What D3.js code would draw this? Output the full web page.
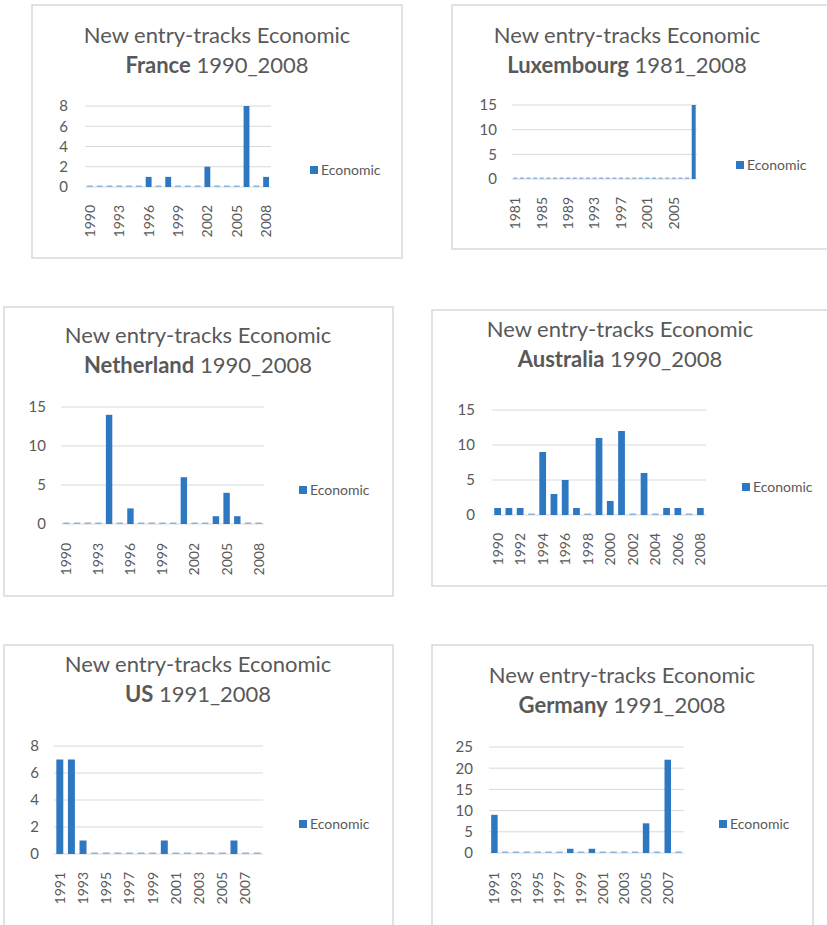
<!DOCTYPE html>
<html>
<head>
<meta charset="utf-8">
<script src="https://cdn.jsdelivr.net/npm/d3@7"></script>
<style>
  body { margin: 0; background: #fff; }
  text { font-family: Lato, "Open Sans", sans-serif; fill: #595959; }
</style>
</head>
<body>
<script>
// data, one set of arrays per chart
let franceYears = d3.range(1990, 2009);
let franceValues = [0,0,0,0,0,0,1,0,1,0,0,0,2,0,0,0,8,0,1];
let franceTicks = [1990,1993,1996,1999,2002,2005,2008];
let franceY = [0,2,4,6,8];

let luxYears = d3.range(1981, 2009);
let luxValues = [0,0,0,0,0,0,0,0,0,0,0,0,0,0,0,0,0,0,0,0,0,0,0,0,0,0,0,15];
let luxTicks = [1981,1985,1989,1993,1997,2001,2005];
let luxY = [0,5,10,15];

let nethYears = d3.range(1990, 2009);
let nethValues = [0,0,0,0,14,0,2,0,0,0,0,6,0,0,1,4,1,0,0];
let nethTicks = [1990,1993,1996,1999,2002,2005,2008];
let nethY = [0,5,10,15];

let ausYears = d3.range(1990, 2009);
let ausValues = [1,1,1,0,9,3,5,1,0,11,2,12,0,6,0,1,1,0,1];
let ausTicks = [1990,1992,1994,1996,1998,2000,2002,2004,2006,2008];
let ausY = [0,5,10,15];

let usYears = d3.range(1991, 2009);
let usValues = [7,7,1,0,0,0,0,0,0,1,0,0,0,0,0,1,0,0];
let usTicks = [1991,1993,1995,1997,1999,2001,2003,2005,2007];
let usY = [0,2,4,6,8];

let gerYears = d3.range(1991, 2009);
let gerValues = [9,0,0,0,0,0,0,1,0,1,0,0,0,0,7,0,22,0];
let gerTicks = [1991,1993,1995,1997,1999,2001,2003,2005,2007];
let gerY = [0,5,10,15,20,25];

let seriesName = "Economic";
let blue = "#2e78c2";

let svg = d3.select("body").append("svg").attr("width", 827).attr("height", 925);

function drawChart(c) {
  let g = svg.append("g");

  g.append("rect")
    .attr("x", c.frame[0]).attr("y", c.frame[1])
    .attr("width", c.frame[2] - c.frame[0]).attr("height", c.frame[3] - c.frame[1])
    .attr("fill", "none").attr("stroke", "#d9d9d9").attr("stroke-width", 1.5);

  g.append("text").attr("x", c.titleX).attr("y", c.titleY)
    .attr("text-anchor", "middle").style("font-size", "22px").attr("fill", "#666")
    .text("New entry-tracks Economic");
  let t2 = g.append("text").attr("x", c.titleX).attr("y", c.titleY + 30)
    .attr("text-anchor", "middle").style("font-size", "22px").attr("fill", "#666");
  t2.append("tspan").style("font-weight", "bold").text(c.country);
  t2.append("tspan").text(" " + c.range);

  let x = d3.scaleBand().domain(c.years).range([c.left, c.right]).paddingInner(0.4).paddingOuter(0.2);
  let y = d3.scaleLinear().domain([0, d3.max(c.yTicks)]).range([c.bottom, c.top]);

  // gridlines
  g.append("g").selectAll("line").data(c.yTicks).join("line")
    .attr("x1", c.left).attr("x2", c.right)
    .attr("y1", d => y(d)).attr("y2", d => y(d))
    .attr("stroke", "#d9d9d9").attr("stroke-width", 1);

  let yAxis = d3.axisLeft(y).tickValues(c.yTicks).tickSize(0).tickPadding(0);
  let ya = g.append("g").attr("transform", "translate(" + c.yLab + ",0)").call(yAxis);
  ya.select(".domain").remove();
  ya.selectAll("text").style("font-size", "15px").attr("fill", "#666").style("font-family", "Lato, sans-serif");

  let xAxis = d3.axisBottom(x).tickValues(c.xTicks).tickSize(0).tickPadding(0);
  let xa = g.append("g").attr("transform", "translate(0," + (c.bottom + c.xGap) + ")").call(xAxis);
  xa.select(".domain").remove();
  xa.selectAll("text")
    .attr("transform", "rotate(-90)")
    .attr("text-anchor", "end")
    .attr("x", 0).attr("y", 0).attr("dy", "0.35em")
    .style("font-size", "14px").attr("fill", "#666").style("font-family", "Lato, sans-serif");

  // bars; zero values show as a thin dash on the axis
  g.append("g").selectAll("rect").data(c.years.map((yr, i) => ({yr: yr, v: c.values[i]}))).join("rect")
    .attr("x", d => x(d.yr))
    .attr("width", x.bandwidth())
    .attr("y", d => d.v > 0 ? y(d.v) : c.bottom - 1.5)
    .attr("height", d => d.v > 0 ? c.bottom - y(d.v) : 1.5)
    .attr("fill", d => d.v > 0 ? blue : "#8db4de");

  // legend
  g.append("rect").attr("x", c.legend[0]).attr("y", c.legend[1]).attr("width", 8).attr("height", 8).attr("fill", blue);
  g.append("text").attr("x", c.legend[0] + 11).attr("y", c.legend[1] + 8.5)
    .style("font-size", "14px").attr("fill", "#666").text(seriesName);
}

drawChart({country: "France", range: "1990_2008", years: franceYears, values: franceValues,
  xTicks: franceTicks, yTicks: franceY,
  frame: [32, 5, 402, 258], titleX: 217, titleY: 43,
  left: 85, right: 271, top: 106, bottom: 187, yLab: 68, xGap: 18, legend: [310, 166]});

drawChart({country: "Luxembourg", range: "1981_2008", years: luxYears, values: luxValues,
  xTicks: luxTicks, yTicks: luxY,
  frame: [452, 5, 832, 249], titleX: 627, titleY: 43,
  left: 512, right: 697, top: 105, bottom: 179, yLab: 497, xGap: 18, legend: [736, 161]});

drawChart({country: "Netherland", range: "1990_2008", years: nethYears, values: nethValues,
  xTicks: nethTicks, yTicks: nethY,
  frame: [4, 307, 393, 596], titleX: 198, titleY: 343,
  left: 61, right: 264, top: 407, bottom: 524, yLab: 46, xGap: 19, legend: [299, 486]});

drawChart({country: "Australia", range: "1990_2008", years: ausYears, values: ausValues,
  xTicks: ausTicks, yTicks: ausY,
  frame: [432, 310, 832, 586], titleX: 620, titleY: 337,
  left: 492, right: 706, top: 410, bottom: 515, yLab: 475, xGap: 18, legend: [742, 483]});

drawChart({country: "US", range: "1991_2008", years: usYears, values: usValues,
  xTicks: usTicks, yTicks: usY,
  frame: [4, 645, 393, 940], titleX: 198, titleY: 672,
  left: 54, right: 263, top: 746, bottom: 854, yLab: 39, xGap: 18, legend: [299, 820]});

drawChart({country: "Germany", range: "1991_2008", years: gerYears, values: gerValues,
  xTicks: gerTicks, yTicks: gerY,
  frame: [432, 645, 813, 940], titleX: 622, titleY: 683,
  left: 489, right: 684, top: 747, bottom: 853, yLab: 473, xGap: 19, legend: [719, 820]});
</script>
</body>
</html>
